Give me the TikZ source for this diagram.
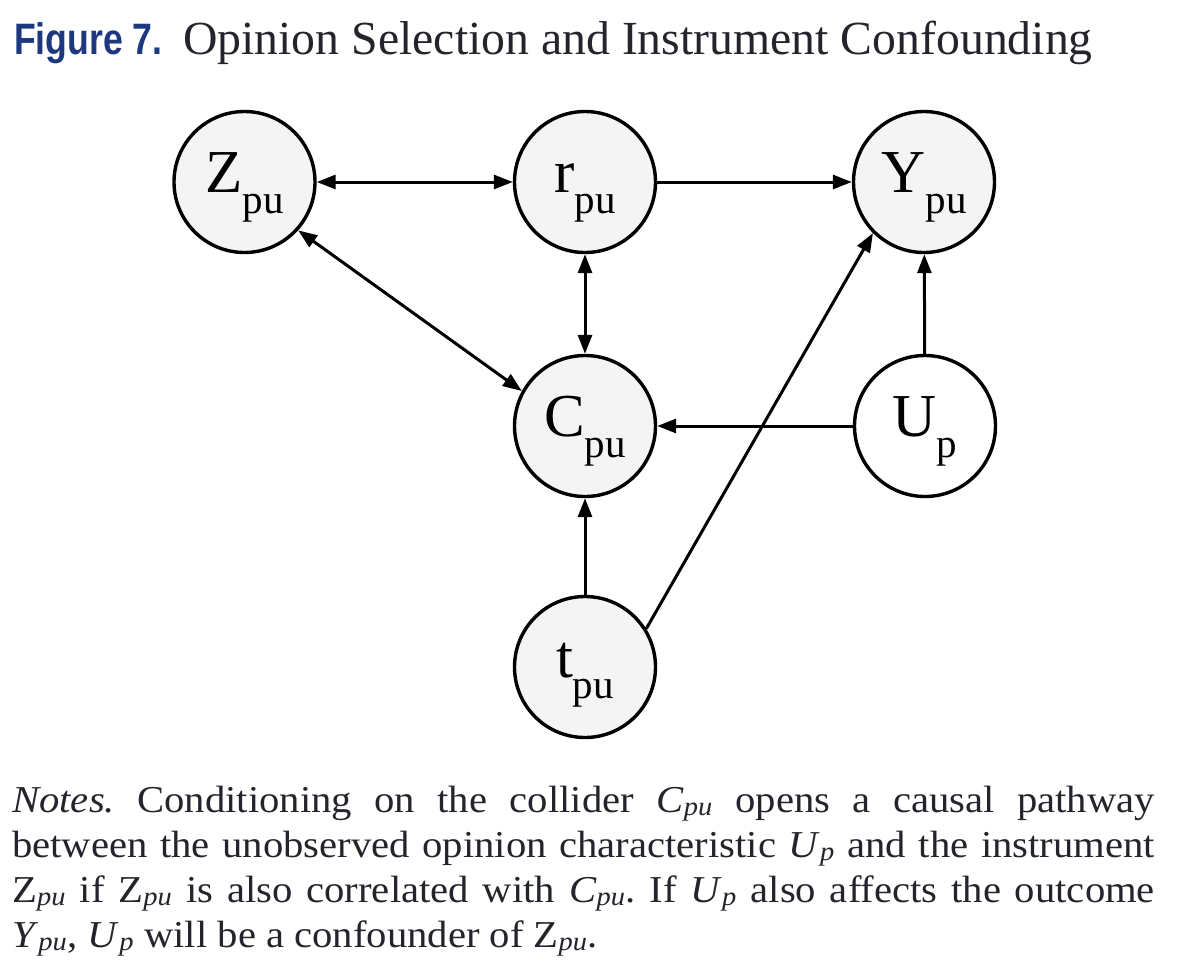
\documentclass[tikz,border=0pt]{standalone}
\usepackage{fontspec}
\setmainfont{Liberation Serif}
\usetikzlibrary{arrows.meta}
\newfontfamily\nodefont{Liberation Serif}
\newfontfamily\titlesans{Liberation Sans}
\definecolor{figblue}{RGB}{30,56,128}
\definecolor{txt}{RGB}{36,36,44}
\definecolor{nodefill}{RGB}{244,244,244}
\newcommand{\nlab}[2]{{\fontsize{61}{61}\selectfont #1}\raisebox{-21pt}{\fontsize{41}{41}\selectfont #2}}
\newcommand{\isub}[1]{\textsubscript{\itshape #1}}
\frenchspacing
\begin{document}
\begin{tikzpicture}[x=1pt,y=-1pt,
  var/.style={circle,draw=black,line width=3.4pt,fill=nodefill,minimum size=141pt,inner sep=0pt,text height=50pt,text depth=30pt,font=\nodefont},
  latent/.style={var,fill=white},
  edge/.style={line width=3pt,-{Triangle[length=19pt,width=14pt]}},
  biedge/.style={line width=3pt,{Triangle[length=19pt,width=14pt]}-{Triangle[length=19pt,width=14pt]}}]
\useasboundingbox[fill=white] (0,0) rectangle (1178,978);

\node[anchor=base west, text=figblue, font=\titlesans\bfseries\fontsize{44}{44}\selectfont, xscale=0.81, inner sep=0pt] (fig) at (14,54) {Figure 7.};
\node[anchor=base west, text=txt, font=\fontsize{47.5}{47.5}\selectfont, xscale=1.005, inner sep=0pt] (ttl) at (183,54) {Opinion Selection and Instrument Confounding};

\node[var] (Z) at (244.5,182) {\nlab{Z}{pu}};
\node[var] (r) at (585,182) {\nlab{r}{pu}};
\node[var] (Y) at (924,182) {\nlab{Y}{pu}};
\node[var] (C) at (585,426) {\nlab{C}{pu}};
\node[latent] (U) at (925,426) {\nlab{U}{p}};
\node[var] (t) at (585,667) {\nlab{t}{pu}};

\draw[biedge] (Z) -- (r);
\draw[edge] (r) -- (Y);
\draw[biedge] (Z.-42) -- (C.151);
\draw[biedge] (r) -- (C);
\draw[edge] (U) -- (C);
\draw[edge] (U) -- (Y);
\draw[edge] (t) -- (C);
\draw[edge] (t.32.6) -- (Y.225);

\node[anchor=base west, xscale=1.07, text width=1068pt, align=justify, inner sep=0pt, text=txt, font=\fontsize{38}{45}\selectfont] (notes) at (12,812) {\textit{Notes.} Conditioning on the collider \textit{C}\isub{pu} opens a causal pathway\linebreak
between the unobserved opinion characteristic \textit{U}\isub{p} and the instrument\linebreak
Z\isub{pu} if Z\isub{pu} is also correlated with \textit{C}\isub{pu}. If \textit{U}\isub{p} also affects the outcome\linebreak
\textit{Y}\isub{pu}, \textit{U}\isub{p} will be a confounder of Z\isub{pu}.};
\end{tikzpicture}
\end{document}
